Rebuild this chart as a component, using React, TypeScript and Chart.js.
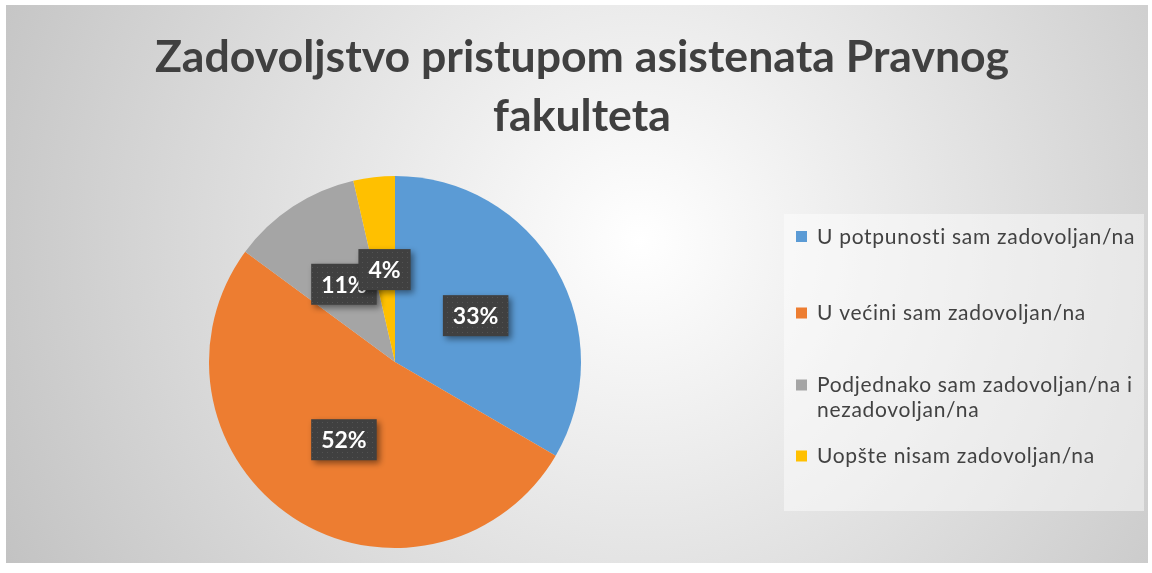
import React, { useEffect, useRef } from "react";
import { Chart, registerables } from "chart.js";

Chart.register(...registerables);

const TITLE_LINES = ["Zadovoljstvo pristupom asistenata Pravnog", "fakulteta"];
const CATEGORIES = [
  "U potpunosti sam zadovoljan/na",
  "U većini sam zadovoljan/na",
  "Podjednako sam zadovoljan/na i nezadovoljan/na",
  "Uopšte nisam zadovoljan/na",
];
const LEGEND_LINES = [
  ["U potpunosti sam zadovoljan/na"],
  ["U većini sam zadovoljan/na"],
  ["Podjednako sam zadovoljan/na i", "nezadovoljan/na"],
  ["Uopšte nisam zadovoljan/na"],
];
const VALUES = [33.4, 51.7, 11.3, 3.6];
const VALUE_LABELS = ["33%", "52%", "11%", "4%"];
const COLORS = ["#5B9BD5", "#ED7D31", "#A5A5A5", "#FFC000"];

const FONT = "Lato, 'Open Sans', sans-serif";

function makePattern(ctx: CanvasRenderingContext2D) {
  const c = document.createElement("canvas");
  c.width = 5;
  c.height = 5;
  const p = c.getContext("2d")!;
  p.fillStyle = "#404040";
  p.fillRect(0, 0, 5, 5);
  p.fillStyle = "#535353";
  p.fillRect(2, 2, 1, 1);
  return ctx.createPattern(c, "repeat") || "#404040";
}

export default function App() {
  const ref = useRef<HTMLCanvasElement>(null);

  useEffect(() => {
    const canvas = ref.current!;

    const bgPlugin = {
      id: "bgTitleLegend",
      beforeDraw(chart: any) {
        const ctx: CanvasRenderingContext2D = chart.ctx;
        ctx.save();
        ctx.fillStyle = "#ffffff";
        ctx.fillRect(0, 0, chart.width, chart.height);
        const g = ctx.createRadialGradient(640, 240, 0, 640, 240, 720);
        g.addColorStop(0, "#ffffff");
        g.addColorStop(1, "#c2c2c2");
        ctx.fillStyle = g;
        ctx.fillRect(6, 5, 1142, 558);

        // title
        ctx.fillStyle = "#404040";
        ctx.font = `bold 44.6px ${FONT}`;
        ctx.textAlign = "center";
        ctx.textBaseline = "alphabetic";
        TITLE_LINES.forEach((line, i) => {
          ctx.fillText(line, 582, 72 + i * 59);
        });

        // legend box
        ctx.fillStyle = "rgba(255,255,255,0.45)";
        ctx.fillRect(784, 214, 360, 297);
        const centers = [236.5, 313, 385, 456];
        ctx.font = `21px ${FONT}`;
        (ctx as any).letterSpacing = "0.7px";
        ctx.textAlign = "left";
        LEGEND_LINES.forEach((lines, i) => {
          const cy = centers[i];
          ctx.fillStyle = COLORS[i];
          ctx.fillRect(796, cy - 5.5, 11, 11);
          ctx.fillStyle = "#424242";
          lines.forEach((t, j) => {
            ctx.fillText(t, 817, cy + 7 + j * 25);
          });
        });
        (ctx as any).letterSpacing = "0px";
        ctx.restore();
      },
    };

    const labelPlugin = {
      id: "valueLabels",
      afterDatasetsDraw(chart: any) {
        const ctx: CanvasRenderingContext2D = chart.ctx;
        const meta = chart.getDatasetMeta(0);
        const pattern = makePattern(ctx);
        ctx.save();
        ctx.font = `bold 23px ${FONT}`;
        ctx.textAlign = "center";
        ctx.textBaseline = "middle";
        meta.data.forEach((arc: any, i: number) => {
          const mid = (arc.startAngle + arc.endAngle) / 2;
          const r = (arc.innerRadius + arc.outerRadius) / 2;
          const x = arc.x + Math.cos(mid) * r;
          const y = arc.y + Math.sin(mid) * r;
          const text = VALUE_LABELS[i];
          const w = ctx.measureText(text).width + 20;
          const h = 41;
          ctx.save();
          ctx.shadowColor = "rgba(0,0,0,0.45)";
          ctx.shadowBlur = 6;
          ctx.shadowOffsetX = 3;
          ctx.shadowOffsetY = 3;
          ctx.fillStyle = pattern as any;
          ctx.fillRect(x - w / 2, y - h / 2, w, h);
          ctx.restore();
          ctx.fillStyle = "#ffffff";
          ctx.fillText(text, x, y + 1);
        });
        ctx.restore();
      },
    };

    const chart = new Chart(canvas, {
      type: "pie",
      data: {
        labels: CATEGORIES,
        datasets: [
          {
            data: VALUES,
            backgroundColor: COLORS,
            borderWidth: 0,
          },
        ],
      },
      options: {
        responsive: false,
        animation: false,
        layout: { padding: { left: 209, top: 176, right: 571, bottom: 25 } },
        plugins: {
          legend: { display: false },
          tooltip: { enabled: false },
          title: { display: false },
        },
      },
      plugins: [bgPlugin, labelPlugin],
    });
    return () => chart.destroy();
  }, []);

  return (
    <div style={{ position: "fixed", left: 0, top: 0, width: 1152, height: 573 }}>
      <canvas ref={ref} width={1152} height={573} style={{ display: "block" }} />
    </div>
  );
}
